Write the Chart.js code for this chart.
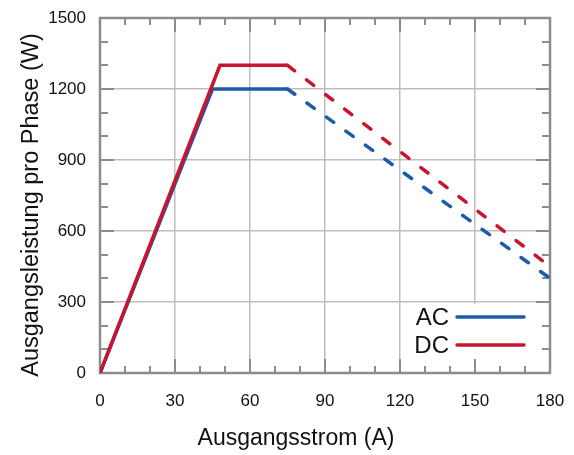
<!DOCTYPE html>
<html>
<head>
<meta charset="utf-8">
<script src="https://cdn.jsdelivr.net/npm/chart.js@4/dist/chart.umd.min.js"></script>
<style>
  html, body { margin: 0; padding: 0; background: #fff; }
  #wrap { width: 574px; height: 455px; }
</style>
</head>
<body>
<div id="wrap"><canvas id="power_curve" width="574" height="455"></canvas></div>
<script>
// output power per phase vs. output current
var acCurrent = [0, 45, 75, 180];
var acPower = [0, 1200, 1200, 400];
var dcCurrent = [0, 48, 75, 180];
var dcPower = [0, 1300, 1300, 450];
var dashedFrom = 2; // segments after this point are dashed

var xTicks = [0, 30, 60, 90, 120, 150, 180];
var yTicks = [0, 300, 600, 900, 1200, 1500];
var xMinorStep = 10;
var yMinorStep = 100;

var seriesNames = ['AC', 'DC'];
var xTitle = 'Ausgangsstrom (A)';
var yTitle = 'Ausgangsleistung pro Phase (W)';
var FONT = "'Liberation Sans', Arial, sans-serif";
var frameColor = '#8c8c8c';

function points(xs, ys) {
  var out = [];
  for (var i = 0; i < xs.length; i++) out.push({x: xs[i], y: ys[i]});
  return out;
}

function dashed(ctx) {
  return ctx.p0DataIndex >= dashedFrom ? [9, 15] : undefined;
}

// frame with inward ticks, white legend box, axis titles
let framePlugin = {
  id: 'frame',
  beforeDatasetsDraw: function(chart) {
    let c = chart.ctx, a = chart.chartArea;
    let sx = chart.scales.x, sy = chart.scales.y;
    c.save();
    // legend box
    c.fillStyle = '#fff';
    c.fillRect(a.right - 140, sy.getPixelForValue(300) + 2, 140, a.bottom - sy.getPixelForValue(300) - 2);
    c.strokeStyle = frameColor;
    c.lineWidth = 2;
    c.beginPath();
    for (let v = sx.min; v <= sx.max; v += xMinorStep) {
      let px = Math.round(sx.getPixelForValue(v));
      let len = xTicks.indexOf(v) >= 0 ? 14 : 7;
      c.moveTo(px, a.bottom); c.lineTo(px, a.bottom - len);
      c.moveTo(px, a.top); c.lineTo(px, a.top + len);
    }
    for (let v = sy.min; v <= sy.max; v += yMinorStep) {
      let py = Math.round(sy.getPixelForValue(v));
      let len = yTicks.indexOf(v) >= 0 ? 14 : 8;
      c.moveTo(a.left, py); c.lineTo(a.left + len, py);
      c.moveTo(a.right, py); c.lineTo(a.right - len, py);
    }
    c.stroke();
    c.lineWidth = 2.5;
    c.strokeRect(a.left, a.top, a.right - a.left, a.bottom - a.top);
    c.restore();
  },
  afterDatasetsDraw: function(chart) {
    let c = chart.ctx, a = chart.chartArea;
    c.save();
    c.font = '24px ' + FONT;
    c.textAlign = 'right';
    c.textBaseline = 'middle';
    chart.data.datasets.forEach(function(ds, i) {
      let y = a.bottom - 56 + i * 28;
      let x1 = a.right - 26, x0 = x1 - 67;
      c.fillStyle = '#111';
      c.fillText(ds.label, x0 - 8, y + 1);
      c.strokeStyle = ds.borderColor;
      c.lineWidth = 3.5;
      c.lineCap = 'round';
      c.beginPath();
      c.moveTo(x0, y); c.lineTo(x1, y);
      c.stroke();
    });
    // axis titles
    c.fillStyle = '#111';
    c.textAlign = 'center';
    c.font = '23px ' + FONT;
    c.fillText(xTitle, 296, 439);
    c.translate(32, 205);
    c.rotate(-Math.PI / 2);
    c.font = '23.5px ' + FONT;
    c.fillText(yTitle, 0, 0);
    c.restore();
  }
};

let chart = new Chart(document.querySelector('#power_curve').getContext('2d'), {
  type: 'line',
  data: {
    datasets: [{
      label: seriesNames[0],
      data: points(acCurrent, acPower),
      borderColor: '#1b5ca8',
      order: 2
    }, {
      label: seriesNames[1],
      data: points(dcCurrent, dcPower),
      borderColor: '#c8142e',
      order: 1
    }]
  },
  options: {
    responsive: false,
    animation: false,
    parsing: false,
    layout: { padding: { left: 0, right: 24, top: 18, bottom: 0 } },
    elements: {
      point: { radius: 0 },
      line: { borderWidth: 3.5, borderCapStyle: 'round', borderJoinStyle: 'miter', tension: 0 }
    },
    datasets: {
      line: { segment: { borderDash: dashed } }
    },
    plugins: {
      legend: { display: false },
      tooltip: { enabled: false }
    },
    scales: {
      x: {
        type: 'linear',
        min: 0,
        max: 180,
        afterBuildTicks: function(s) { s.ticks = xTicks.map(v => ({value: v})); },
        afterFit: function(s) { s.height = 82; s.paddingLeft = 0; s.paddingRight = 0; },
        ticks: { padding: 18, color: '#111', font: { size: 17, family: FONT }, maxRotation: 0,
          callback: function(v) { return String(v); } },
        grid: { color: '#bdbdbd', lineWidth: 1.5, drawTicks: false },
        border: { display: false }
      },
      y: {
        type: 'linear',
        min: 0,
        max: 1500,
        afterBuildTicks: function(s) { s.ticks = yTicks.map(v => ({value: v})); },
        afterFit: function(s) { s.width = 100; s.paddingTop = 0; s.paddingBottom = 0; },
        ticks: { padding: 14, color: '#111', font: { size: 17, family: FONT },
          callback: function(v) { return String(v); } },
        grid: { color: '#bdbdbd', lineWidth: 1.5, drawTicks: false },
        border: { display: false }
      }
    }
  },
  plugins: [framePlugin]
});
</script>
</body>
</html>
